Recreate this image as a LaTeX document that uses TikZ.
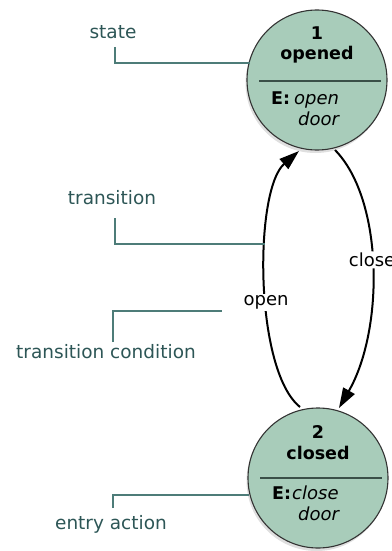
\documentclass[tikz,border=0pt]{standalone}
\usepackage{fontspec}
\setmainfont{DejaVu Sans}
\usetikzlibrary{arrows.meta,shadows}
\definecolor{statefill}{HTML}{A8CCBA}
\definecolor{noteline}{HTML}{4D7C78}
\definecolor{notetext}{HTML}{2D5656}
\definecolor{divider}{HTML}{3A4F48}
\tikzset{
  statenode/.style={circle, minimum size=140pt, inner sep=0pt, draw=black!80, line width=1.1pt,
    fill=statefill, drop shadow={opacity=0.25, shadow xshift=-1.5pt, shadow yshift=-3pt}},
  stxt/.style={inner sep=0pt, font=\fontsize{17.5}{20}\selectfont\bfseries},
  etxt/.style={inner sep=0pt, anchor=mid west, font=\fontsize{18}{20}\selectfont\itshape},
  elbl/.style={inner sep=0pt, anchor=mid west, font=\fontsize{17.5}{20}\selectfont\bfseries},
  note/.style={inner sep=0pt, text=notetext, font=\fontsize{18.5}{22}\selectfont},
  noteln/.style={draw=noteline, line width=2pt},
  trans/.style={draw=black, line width=2pt, -{Triangle[length=20pt,width=13pt]}},
  tlabel/.style={fill=white, rounded corners=4pt, inner sep=1.5pt, font=\fontsize{18}{20}\selectfont},
}
\begin{document}
\begin{tikzpicture}[x=1pt,y=-1pt]
\useasboundingbox (0,0) rectangle (391,551);
% states
\node[statenode] (s1) at (317,80) {};
\node[statenode] (s2) at (318,478) {};
% state 1 content
\node[stxt] (n1) at (317,33) {1};
\node[stxt] (t1) at (317,55) {opened};
\coordinate (d1a) at (259,81);
\coordinate (d1b) at (381,81);
\draw[divider, line width=1.3pt] (d1a) -- (d1b);
\node[elbl] (e1) at (271,102) {E:};
\node[etxt] (a1) at (294,102) {open};
\node[etxt] (b1) at (298,123) {door};
% state 2 content
\node[stxt] (n2) at (318,432) {2};
\node[stxt] (t2) at (318,453) {closed};
\coordinate (d2a) at (260,478);
\coordinate (d2b) at (382,478);
\draw[divider, line width=1.3pt] (d2a) -- (d2b);
\node[elbl] (e2) at (272,497) {E:};
\node[etxt] (a2) at (292,497) {close};
\node[etxt] (b2) at (298,518) {door};
% transitions
\coordinate (o0) at (300,407);
\coordinate (o1) at (299,151);
\coordinate (c0) at (335,150);
\coordinate (c1) at (339,408);
\draw[trans] (o0) .. controls (254,370) and (254,190) .. (o1)
  node[pos=0.43, tlabel] (lopen) {open};
\draw[trans] (c0) .. controls (384,200) and (384,330) .. (c1)
  node[pos=0.47, tlabel] (lclose) {close};
% annotations
\node[note] (nstate) at (113,32) {state};
\node[note] (ntrans) at (112,198) {transition};
\node[note] (ncond) at (106,352) {transition condition};
\node[note] (nentry) at (111,524) {entry action};
\coordinate (p1a) at (115,47);
\coordinate (p1b) at (115,63);
\coordinate (p1c) at (250,63);
\draw[noteln] (p1a) -- (p1b) -- (p1c);
\coordinate (p2a) at (115,218);
\coordinate (p2b) at (115,244);
\coordinate (p2c) at (265,244);
\draw[noteln] (p2a) -- (p2b) -- (p2c);
\coordinate (p3a) at (113,342);
\coordinate (p3b) at (113,311);
\coordinate (p3c) at (222,311);
\draw[noteln] (p3a) -- (p3b) -- (p3c);
\coordinate (p4a) at (113,508);
\coordinate (p4b) at (113,495);
\coordinate (p4c) at (249,495);
\draw[noteln] (p4a) -- (p4b) -- (p4c);
\end{tikzpicture}
\end{document}
